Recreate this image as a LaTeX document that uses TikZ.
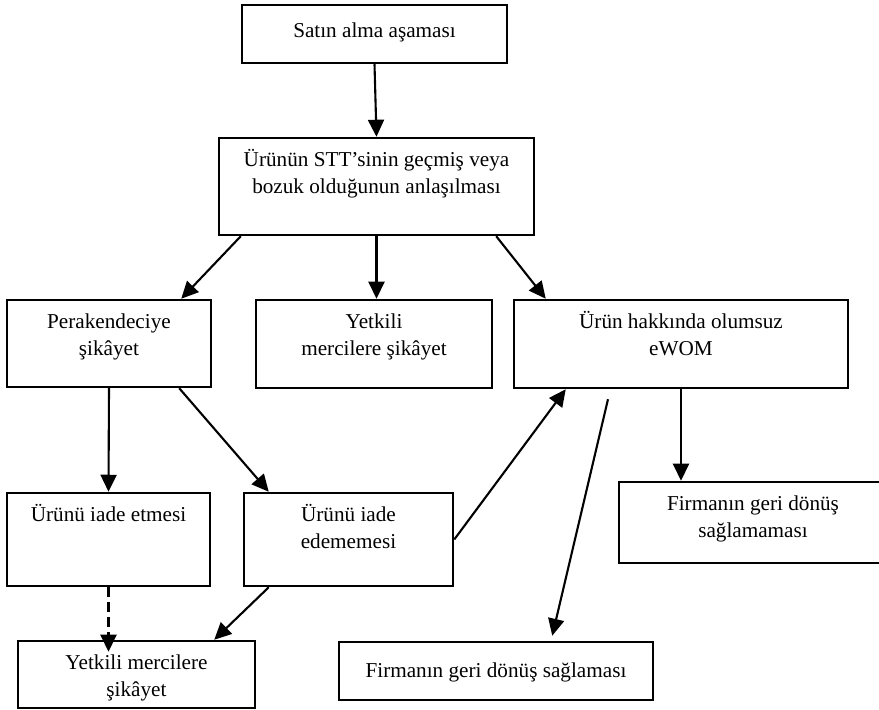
\documentclass[tikz,border=0pt]{standalone}
\usepackage{fontspec}
\setmainfont{Liberation Serif}
\usetikzlibrary{arrows.meta}
\newcommand{\kutu}[4][5pt]{\parbox[t][#3][t]{#2}{\centering\vspace*{#1}\strut #4\par}}

\begin{document}
\begin{tikzpicture}[x=0.5pt, y=-0.5pt,
        font=\fontsize{10.6}{13.5}\selectfont,
        box/.style={draw, line width=1.25pt, inner sep=0pt},
        arr/.style={-{Triangle[length=8.5pt, width=8pt]}, line width=1.05pt}]
            \useasboundingbox (0,0) rectangle (879,710);

            \node[box] (alma) at (374.5,34) {\kutu[7pt]{132.5pt}{29pt}{Satın alma aşaması}};
            \node[box] (stt) at (376.5,186.5) {\kutu{157.5pt}{48.5pt}{Ürünün STT’sinin geçmiş veya\\bozuk olduğunun anlaşılması}};
            \node[box] (perakende) at (109,343.5) {\kutu{102pt}{43.5pt}{Perakendeciye\\şikâyet}};
            \node[box] (merci) at (374,344) {\kutu{118pt}{44pt}{Yetkili\\mercilere şikâyet}};
            \node[box] (ewom) at (681,344) {\kutu{167pt}{44pt}{Ürün hakkında olumsuz\\eWOM}};
            \node[box] (iade) at (108.5,539.5) {\kutu{101.5pt}{46.5pt}{Ürünü iade etmesi}};
            \node[box] (iadeyok) at (348.5,539.5) {\kutu{104.5pt}{46.5pt}{Ürünü iade\\edememesi}};
            \node[box] (donusyok) at (753,522.5) {\kutu{134pt}{40.5pt}{Firmanın geri dönüş\\sağlamaması}};
            \node[box] (merci2) at (136.5,674.5) {\kutu{118.5pt}{33.5pt}{Yetkili mercilere\\şikâyet}};
            \node[box] (donus) at (496,671) {\kutu[8.5pt]{157pt}{29pt}{Firmanın geri dönüş sağlaması}};

            \draw[arr] (alma.south) -- (stt.north);
            \draw[arr] ([xshift=11.5pt]stt.south west) -- ([xshift=-15.5pt]perakende.north east);
            \draw[arr] (stt.south) -- (stt.south |- merci.north);
            \draw[arr] ([xshift=-19.5pt]stt.south east) -- ([xshift=16.5pt]ewom.north west);
            \draw[arr] (perakende.south) -- (iade.north);
            \draw[arr] ([xshift=-16.5pt]perakende.south east) -- ([xshift=13pt]iadeyok.north west);
            \draw[arr] (ewom.south) -- (ewom.south |- donusyok.north);
            \draw[arr] (iadeyok.east) -- ([xshift=26.5pt]ewom.south west);
            \coordinate (yorum) at ([xshift=-36.5pt, yshift=-5pt]ewom.south);
            \draw[arr] (yorum) -- ([xshift=-51pt, yshift=2.5pt]donus.north east);
            \draw[arr, dash pattern=on 5pt off 2.5pt] (iade.south) -- ([yshift=-6pt]iade.south |- merci2.north);
            \draw[arr] ([xshift=13pt]iadeyok.south west) -- ([xshift=-21pt]merci2.north east);

        \end{tikzpicture}
\end{document}
